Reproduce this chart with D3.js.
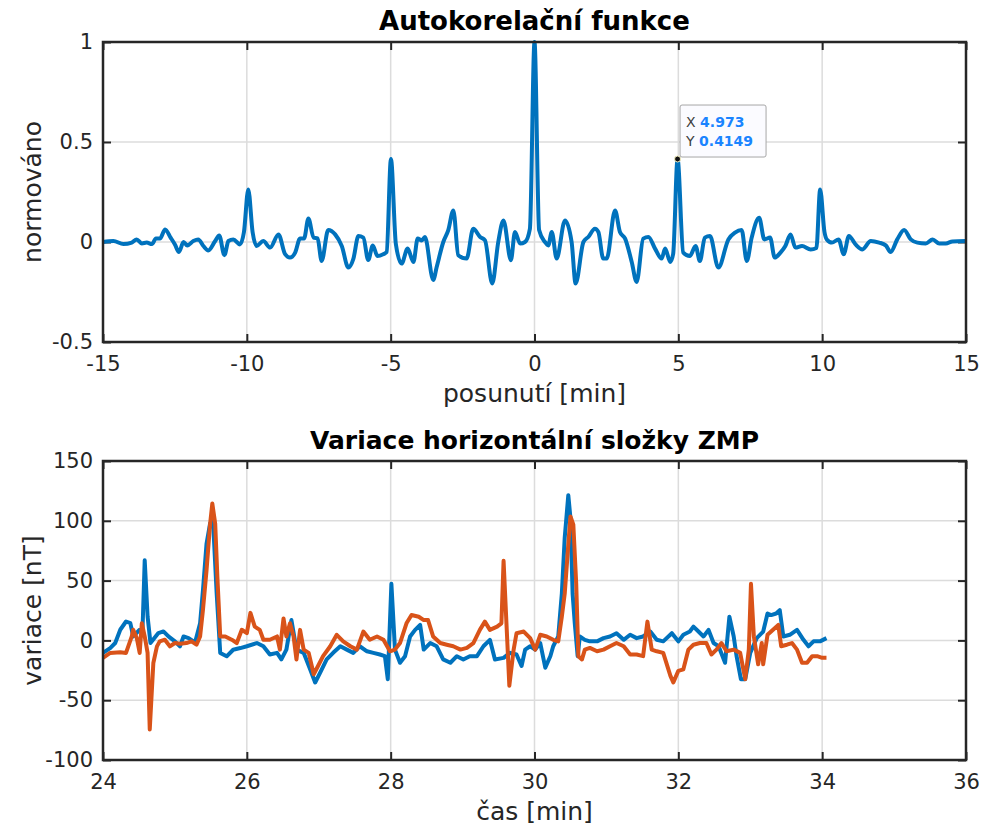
<!DOCTYPE html>
<html>
<head>
<meta charset="utf-8">
<script src="https://cdn.jsdelivr.net/npm/d3@7"></script>
<style>
  body { margin: 0; background: #fff; }
  svg { font-family: "DejaVu Sans", sans-serif; }
  .tick text { fill: #262626; }
</style>
</head>
<body>
<div id="chart"></div>
<script>
const width = 984;
const height = 827;

// autocorrelation (lag in minutes, normalised value)
var acfLag = [-15.0, -14.64, -14.29, -14.0, -13.83, -13.65, -13.48, -13.3, -13.16, -13.02, -12.84, -12.65, -12.5, -12.36, -12.2, -12.07, -11.86, -11.69, -11.51, -11.34, -11.1, -10.96, -10.78, -10.64, -10.47, -10.24, -10.1, -9.95, -9.8, -9.66, -9.43, -9.19, -8.9, -8.67, -8.5, -8.32, -8.15, -8.01, -7.86, -7.68, -7.54, -7.4, -7.17, -6.93, -6.7, -6.47, -6.3, -6.12, -5.95, -5.78, -5.62, -5.46, -5.26, -5.14, -4.99, -4.82, -4.62, -4.41, -4.21, -4.06, -3.92, -3.81, -3.52, -3.4, -3.17, -3.0, -2.82, -2.65, -2.36, -2.13, -1.89, -1.72, -1.47, -1.26, -1.08, -0.82, -0.68, -0.5, -0.33, -0.16, 0,
  0.16, 0.365, 0.48, 0.6, 0.77, 1.06, 1.29, 1.43, 1.70, 1.87, 2.10, 2.22, 2.39, 2.51, 2.80, 2.97, 3.15, 3.38, 3.55, 3.78, 3.96, 4.19, 4.42, 4.54, 4.72, 4.82, 4.973, 5.17, 5.4, 5.6, 5.75, 5.92, 6.1, 6.39, 6.74, 6.97, 7.2, 7.38, 7.55, 7.81, 7.99, 8.19, 8.35, 8.55, 8.72, 8.9, 9.07, 9.3, 9.6, 9.8, 9.93, 10.08, 10.16, 10.34, 10.57, 10.75, 10.93, 11.16, 11.4, 11.69, 11.98, 12.21, 12.38, 12.61, 12.85, 13.08, 13.31, 13.6, 13.84, 14.07, 14.3, 14.53, 15.0];
var acfVal = [0, 0.005, -0.01, -0.003, 0.013, -0.007, -0.003, -0.01, 0.017, 0.017, 0.063, 0.022, -0.012, -0.05, 0, -0.017, 0.005, 0.013, -0.02, -0.042, 0.005, 0.033, -0.066, 0.005, 0.013, -0.012, 0.05, 0.263, 0.05, -0.02, 0.005, -0.028, 0.038, -0.061, -0.078, -0.053, 0.017, 0.017, 0.118, 0.022, 0.018, -0.095, 0.06, 0.038, -0.02, -0.128, -0.086, 0.03, 0.022, -0.09, -0.017, -0.07, -0.061, -0.05, 0.415, -0.01, -0.108, -0.033, -0.1, 0.017, 0.008, 0.025, -0.19, -0.125, 0, 0.058, 0.158, -0.066, -0.083, 0.066, 0.025, 0.008, -0.208, 0, 0.108, -0.091, 0.05, -0.008, 0, 0.066, 1.0,
  0.06, 0, -0.017, 0.05, -0.083, 0.108, 0, -0.208, 0, 0.025, 0.066, 0.05, -0.083, -0.083, 0.158, 0.05, 0.017, -0.1, -0.2, 0.017, 0.025, -0.033, -0.083, -0.033, -0.1, -0.06, 0.4149, -0.053, -0.07, -0.02, -0.095, 0.022, 0.03, -0.128, 0.013, 0.047, 0.06, -0.095, 0.022, 0.121, 0.013, 0.022, -0.078, -0.053, -0.02, 0.038, -0.028, -0.02, -0.037, -0.03, 0.263, 0.05, 0.013, -0.003, 0.013, -0.061, 0.03, -0.012, -0.037, 0.005, -0.003, -0.017, -0.05, 0.013, 0.06, 0.013, -0.003, -0.007, 0.013, -0.007, -0.007, 0.003, 0.005];

// ZMP variation, blue component
var blueT = [24.0, 24.10, 24.17, 24.24, 24.32, 24.38, 24.42, 24.51, 24.55, 24.58, 24.62, 24.66, 24.77, 24.84, 24.91, 25.0, 25.07, 25.12, 25.19, 25.28, 25.35, 25.39, 25.44, 25.49, 25.53, 25.58, 25.63, 25.72, 25.81, 25.91,
  26.0, 26.14, 26.23, 26.32, 26.42, 26.48, 26.55, 26.62, 26.69, 26.79, 26.88, 26.95, 27.02, 27.11, 27.20, 27.30, 27.39, 27.48, 27.57, 27.67, 27.76, 27.85, 27.92, 27.96, 28.01, 28.06, 28.13, 28.20, 28.27, 28.34, 28.41, 28.46, 28.55, 28.64, 28.73, 28.83, 28.92, 29.01, 29.10, 29.20, 29.29, 29.38, 29.45, 29.57, 29.66, 29.75, 29.82, 29.87, 29.94,
  30.01, 30.08, 30.15, 30.22, 30.26, 30.33, 30.38, 30.42, 30.47, 30.50, 30.53, 30.56, 30.60, 30.63, 30.70, 30.77, 30.87, 30.96, 31.05, 31.14, 31.24, 31.33, 31.42, 31.51, 31.61, 31.70, 31.79, 31.91, 32.0, 32.07, 32.16, 32.21, 32.28, 32.35, 32.42, 32.49, 32.56, 32.65, 32.71, 32.77, 32.81, 32.87, 32.93, 33.0, 33.09, 33.18, 33.24, 33.29, 33.36, 33.41, 33.46, 33.55, 33.65, 33.74, 33.81, 33.88, 33.97, 34.06];
var blueV = [-10.5, -6.4, -2.2, 8.9, 15.8, 14.4, 3.3, 8.9, 10, 67, 20, -2.2, 6.1, 7.5, 3.3, -0.8, -5, 3.3, 1.9, -1.7, 14.4, 42, 81, 98, 100, 40, -10.5, -13.3, -7.8, -6.4,
  -4.9, -2.2, -4.9, -11.8, -10.4, -15.9, -7.7, 17, -7.7, -10.4, -24.2, -35.2, -26.9, -15.9, -10.4, -4.9, -7.7, -10.4, -4.9, -9.1, -10.4, -11.8, -13.2, -32.4, 47.3, -7.7, -18.7, -13.2, 3.3, 8.8, 12.9, -7.7, -2.2, -4.9, -15.9, -18.7, -13.2, -15.9, -13.2, -13.2, -4.9, 0.5, -15.9, -14.6, -10.4, -11.8, -21.4, -7.7, -4.9,
  -7.7, -2.2, -22.8, -13.2, -4.9, 3.3, 39, 85.7, 121.4, 102.2, 39, 14.3, -13.2, 3.3, 0.5, -0.8, -0.8, 1.9, 3.3, 6, 0.5, 4.7, 1.9, 3.3, 7.4, 0.5, -0.8, 6, -0.8, 4.7, 7.4, 11.5, 7.4, 3.3, 8.8, -2.2, -4.9, -18.7, 19.8, 3.3, -13.2, -32.4, -32.4, -10.4, 1.9, 7.4, 22.5, 21.2, 22.5, 25.3, 3.3, 4.7, 8.8, 0.5, -4.9, -0.8, -0.8, 1.9];

// ZMP variation, orange component
var orangeT = [24.0, 24.10, 24.24, 24.32, 24.40, 24.42, 24.47, 24.51, 24.54, 24.58, 24.62, 24.65, 24.70, 24.75, 24.79, 24.86, 24.93, 25.0, 25.07, 25.16, 25.23, 25.30, 25.35, 25.39, 25.44, 25.49, 25.52, 25.56, 25.59, 25.63, 25.70, 25.79, 25.86, 25.93, 26.0, 26.05,
  26.11, 26.18, 26.23, 26.32, 26.42, 26.46, 26.51, 26.55, 26.60, 26.65, 26.69, 26.74, 26.79, 26.86, 26.93, 26.99, 27.06, 27.16, 27.25, 27.34, 27.44, 27.53, 27.62, 27.71, 27.81, 27.90, 27.99, 28.06, 28.13, 28.22, 28.29, 28.39, 28.46, 28.52, 28.59, 28.69, 28.78, 28.87, 28.97, 29.06, 29.15, 29.24, 29.31, 29.38, 29.48, 29.54, 29.57, 29.61, 29.65, 29.71, 29.75, 29.85, 29.94,
  30.01, 30.08, 30.17, 30.26, 30.33, 30.38, 30.42, 30.47, 30.50, 30.54, 30.58, 30.61, 30.66, 30.70, 30.77, 30.87, 30.96, 31.05, 31.14, 31.24, 31.33, 31.42, 31.51, 31.57, 31.63, 31.70, 31.79, 31.89, 31.93, 32.0, 32.07, 32.14, 32.21, 32.30, 32.39, 32.46, 32.53, 32.60, 32.67, 32.77, 32.86, 32.93, 32.98, 33.01, 33.05, 33.11, 33.16, 33.18, 33.24, 33.29, 33.39, 33.43, 33.51, 33.58, 33.65, 33.72, 33.79, 33.86, 33.93, 34.0, 34.06];
var orangeV = [-14.7, -10.5, -10, -10.5, 3.3, 8.9, 1.9, -10.5, 14.4, 3.3, -10.5, -74.4, -18.9, -5, -0.8, 0.6, -5, -2.2, -2.8, -2.2, -0.8, -3.6, 3.3, 25.6, 58.9, 97.8, 114.4, 97.8, 53.3, 3.3, 3.3, 0.6, -2.2, 8.9, 6.1, 23,
  11.5, 8.8, 0.5, 0.5, 3.3, -7.7, 18.4, 3.3, 14.3, 3.3, -15.9, 8.8, -7.7, -10.4, -28.3, -21.4, -13.2, -4.9, 4.7, -0.8, -4.9, -7.7, 7.4, 0.5, 3.3, 0.5, -9.1, -7.7, -2.2, 14.3, 21.2, 19.8, 17, 17, 3.3, -2.2, -3.6, -4.9, -7.7, -6.3, -2.2, 8.8, 15.7, 8.8, 11.5, 14.3, 66.5, 14.3, -37.9, -7.7, 6, 7.4, 1.9,
  -7.7, 4.7, 3.3, 0.5, -0.8, 19.8, 39, 80.2, 103.6, 96.7, 47.3, -13.2, -15.9, -7.7, -6.3, -9.1, -7.7, -4.9, -2.2, -4.9, -11.8, -11.8, -13.2, 15.7, -7.7, -9.1, -10.4, -29.7, -35.2, -25.5, -24.2, -7.7, -3.6, -2.2, -2.2, -11.8, -7.7, -2.2, -9.1, -7.7, -10.4, -32.4, -7.7, 47.3, 3.3, -20, -2.2, -20, 4.7, 7.4, 12.9, -4.9, -3.6, -2.2, -7.7, -18.7, -18.7, -13.2, -13.2, -14.6, -14.6];

// ticks
var acfXTicks = [-15, -10, -5, 0, 5, 10, 15];
var acfYTicks = [-0.5, 0, 0.5, 1];
var zmpXTicks = [24, 26, 28, 30, 32, 34, 36];
var zmpYTicks = [-100, -50, 0, 50, 100, 150];

// datatip
var tipX = 4.973;
var tipY = 0.4149;

var svg = d3.select("#chart").append("svg")
  .attr("width", width)
  .attr("height", height);

// draws one MATLAB-like axes box, returns scales
function drawAxes(box, xDom, yDom, xTicks, yTicks, titleText, xLab, yLab, titleSize) {
  var x = d3.scaleLinear().domain(xDom).range([box.left, box.right]);
  var y = d3.scaleLinear().domain(yDom).range([box.bottom, box.top]);
  var g = svg.append("g");

  // grid
  g.selectAll(".vgrid").data(xTicks).enter().append("line")
    .attr("x1", d => x(d)).attr("x2", d => x(d))
    .attr("y1", box.top).attr("y2", box.bottom)
    .attr("stroke", "#dcdcdc").attr("stroke-width", 1.5);
  g.selectAll(".hgrid").data(yTicks).enter().append("line")
    .attr("y1", d => y(d)).attr("y2", d => y(d))
    .attr("x1", box.left).attr("x2", box.right)
    .attr("stroke", "#dcdcdc").attr("stroke-width", 1.5);

  var tl = 8;
  g.append("g").attr("transform", "translate(0," + box.bottom + ")")
    .call(d3.axisBottom(x).tickValues(xTicks).tickFormat(d => String(d)).tickSizeInner(-tl).tickSizeOuter(0).tickPadding(14));
  g.append("g").attr("transform", "translate(0," + box.top + ")")
    .call(d3.axisTop(x).tickValues(xTicks).tickFormat("").tickSizeInner(-tl).tickSizeOuter(0));
  g.append("g").attr("transform", "translate(" + box.left + ",0)")
    .call(d3.axisLeft(y).tickValues(yTicks).tickFormat(d => String(d)).tickSizeInner(-tl).tickSizeOuter(0).tickPadding(10));
  g.append("g").attr("transform", "translate(" + box.right + ",0)")
    .call(d3.axisRight(y).tickValues(yTicks).tickFormat("").tickSizeInner(-tl).tickSizeOuter(0));

  g.selectAll(".domain").remove();
  g.selectAll(".tick line").attr("stroke", "#262626").attr("stroke-width", 2);
  g.selectAll(".tick text").attr("font-size", 21).attr("font-family", "DejaVu Sans");

  svg.append("text").attr("x", (box.left + box.right) / 2).attr("y", box.top - 12)
    .attr("text-anchor", "middle").attr("font-size", titleSize).attr("font-weight", "bold")
    .attr("fill", "#000").text(titleText);
  svg.append("text").attr("x", (box.left + box.right) / 2).attr("y", box.bottom + 60)
    .attr("text-anchor", "middle").attr("font-size", 25).attr("fill", "#262626").text(xLab);
  svg.append("text")
    .attr("transform", "translate(" + (box.left - 62) + "," + ((box.top + box.bottom) / 2) + ") rotate(-90)")
    .attr("text-anchor", "middle").attr("font-size", 25).attr("fill", "#262626").text(yLab);

  return { x: x, y: y, g: g, box: box };
}

function drawBorder(a) {
  svg.append("rect")
    .attr("x", a.box.left).attr("y", a.box.top)
    .attr("width", a.box.right - a.box.left).attr("height", a.box.bottom - a.box.top)
    .attr("fill", "none").attr("stroke", "#262626").attr("stroke-width", 2.5);
}

// top: autocorrelation
var axTop = drawAxes({ left: 103, right: 966, top: 42, bottom: 342 }, [-15, 15], [-0.5, 1],
  acfXTicks, acfYTicks, "Autokorelační funkce", "posunutí [min]", "normováno", 26);

var acfLine = d3.line().x(d => axTop.x(d[0])).y(d => axTop.y(d[1])).curve(d3.curveMonotoneX);
svg.append("path")
  .datum(acfLag.map((l, i) => [l, acfVal[i]]))
  .attr("d", acfLine)
  .attr("fill", "none").attr("stroke", "#0072BD").attr("stroke-width", 4)
  .attr("stroke-linejoin", "round");
drawBorder(axTop);

// datatip
var tx = axTop.x(tipX), ty = axTop.y(tipY);
svg.append("circle").attr("cx", tx).attr("cy", ty).attr("r", 3)
  .attr("fill", "#111").attr("stroke", "#f5f0c0").attr("stroke-width", 1);
var tip = svg.append("g").attr("transform", "translate(" + (tx + 2.5) + "," + (ty - 54) + ")");
tip.append("rect").attr("width", 86).attr("height", 52).attr("rx", 2)
  .attr("fill", "#fbfbff").attr("stroke", "#a6a6a6").attr("stroke-width", 1);
var tipLines = [["X", tipX], ["Y", tipY]];
tip.selectAll(".tl").data(tipLines).enter().append("text")
  .attr("x", 6).attr("y", (d, i) => 22 + i * 19)
  .attr("font-size", 14)
  .each(function (d) {
    d3.select(this).append("tspan").attr("fill", "#404040").text(d[0] + " ");
    d3.select(this).append("tspan").attr("fill", "#1a84ff").attr("font-weight", "bold").text(d[1]);
  });

// bottom: ZMP variation
var axBot = drawAxes({ left: 103, right: 966, top: 461, bottom: 760 }, [24, 36], [-100, 150],
  zmpXTicks, zmpYTicks, "Variace horizontální složky ZMP", "čas [min]", "variace [nT]", 25);

var zLine = d3.line().x(d => axBot.x(d[0])).y(d => axBot.y(d[1]));
svg.append("path")
  .datum(blueT.map((t, i) => [t, blueV[i]]))
  .attr("d", zLine)
  .attr("fill", "none").attr("stroke", "#0072BD").attr("stroke-width", 4)
  .attr("stroke-linejoin", "round");
svg.append("path")
  .datum(orangeT.map((t, i) => [t, orangeV[i]]))
  .attr("d", zLine)
  .attr("fill", "none").attr("stroke", "#D95319").attr("stroke-width", 4)
  .attr("stroke-linejoin", "round");
drawBorder(axBot);
</script>
</body>
</html>
